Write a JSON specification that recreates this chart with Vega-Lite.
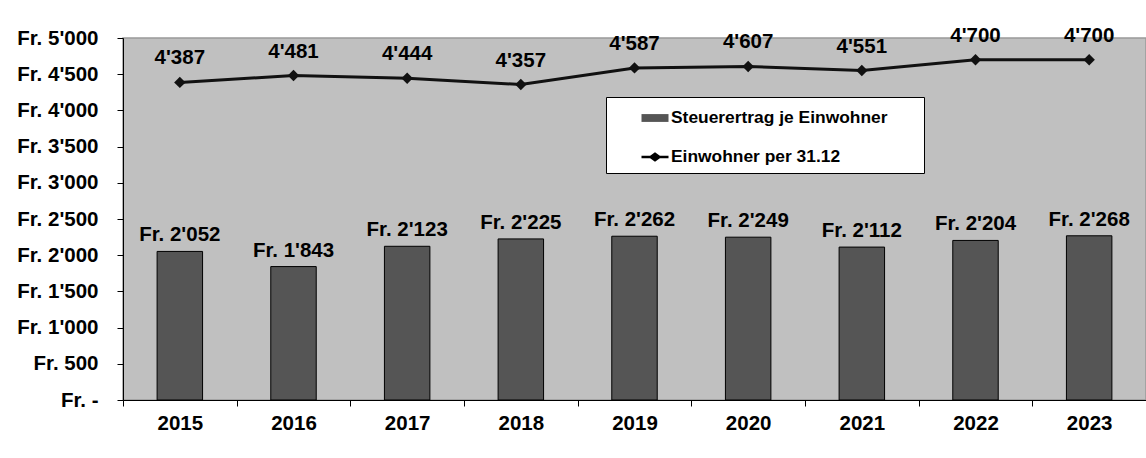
{
  "$schema": "https://vega.github.io/schema/vega-lite/v6.json",
  "width": 1023,
  "height": 362,
  "autosize": {"type": "none"},
  "padding": {"left": 123, "top": 38, "right": 0, "bottom": 58},
  "background": "white",
  "config": {
    "locale": {"number": {"decimal": ".", "thousands": "'", "grouping": [3], "currency": ["Fr. ", ""]}},
    "font": "Liberation Sans",
    "view": {"fill": "#C0C0C0", "stroke": "#999999", "strokeWidth": 1.5},
    "axis": {"labelFont": "Liberation Sans", "labelFontWeight": "bold", "labelColor": "black", "domainColor": "black", "tickColor": "black", "grid": false, "title": null, "domainWidth": 1, "tickWidth": 1}
  },
  "data": {
    "values": [
      {"year": "2015", "series": "Steuerertrag je Einwohner", "value": 2052},
      {"year": "2016", "series": "Steuerertrag je Einwohner", "value": 1843},
      {"year": "2017", "series": "Steuerertrag je Einwohner", "value": 2123},
      {"year": "2018", "series": "Steuerertrag je Einwohner", "value": 2225},
      {"year": "2019", "series": "Steuerertrag je Einwohner", "value": 2262},
      {"year": "2020", "series": "Steuerertrag je Einwohner", "value": 2249},
      {"year": "2021", "series": "Steuerertrag je Einwohner", "value": 2112},
      {"year": "2022", "series": "Steuerertrag je Einwohner", "value": 2204},
      {"year": "2023", "series": "Steuerertrag je Einwohner", "value": 2268},
      {"year": "2015", "series": "Einwohner per 31.12", "value": 4387},
      {"year": "2016", "series": "Einwohner per 31.12", "value": 4481},
      {"year": "2017", "series": "Einwohner per 31.12", "value": 4444},
      {"year": "2018", "series": "Einwohner per 31.12", "value": 4357},
      {"year": "2019", "series": "Einwohner per 31.12", "value": 4587},
      {"year": "2020", "series": "Einwohner per 31.12", "value": 4607},
      {"year": "2021", "series": "Einwohner per 31.12", "value": 4551},
      {"year": "2022", "series": "Einwohner per 31.12", "value": 4700},
      {"year": "2023", "series": "Einwohner per 31.12", "value": 4700}
    ]
  },
  "encoding": {
    "x": {
      "field": "year", "type": "ordinal",
      "scale": {"paddingInner": 0, "paddingOuter": 0},
      "axis": {"labelAngle": 0, "tickBand": "extent", "tickSize": 6, "labelPadding": 7, "labelFontSize": 20.5}
    },
    "y": {
      "field": "value", "type": "quantitative",
      "scale": {"domain": [0, 5000], "nice": false},
      "axis": {"values": [0, 500, 1000, 1500, 2000, 2500, 3000, 3500, 4000, 4500, 5000], "format": "$,.0f", "labelExpr": "datum.value === 0 ? 'Fr. -' : datum.label", "tickSize": 6, "labelPadding": 19, "labelFontSize": 20.5}
    }
  },
  "layer": [
    {
      "transform": [{"filter": "datum.series === 'Steuerertrag je Einwohner'"}],
      "mark": {"type": "bar", "width": {"band": 0.4}, "fill": "#555555", "stroke": "black", "strokeWidth": 1}
    },
    {
      "transform": [{"filter": "datum.series === 'Steuerertrag je Einwohner'"}],
      "mark": {"type": "text", "baseline": "alphabetic", "dy": -10, "font": "Liberation Sans", "fontWeight": "bold", "fontSize": 20.5, "color": "black"},
      "encoding": {"text": {"field": "value", "type": "quantitative", "format": "$,.0f"}}
    },
    {
      "transform": [{"filter": "datum.series === 'Einwohner per 31.12'"}],
      "mark": {"type": "line", "color": "#111111", "strokeWidth": 3}
    },
    {
      "transform": [{"filter": "datum.series === 'Einwohner per 31.12'"}],
      "mark": {"type": "point", "shape": "diamond", "filled": true, "size": 130, "color": "#111111", "opacity": 1}
    },
    {
      "transform": [{"filter": "datum.series === 'Einwohner per 31.12'"}],
      "mark": {"type": "text", "baseline": "alphabetic", "dy": -18, "font": "Liberation Sans", "fontWeight": "bold", "fontSize": 20.5, "color": "black"},
      "encoding": {"text": {"field": "value", "type": "quantitative", "format": ",.0f"}}
    },
    {
      "mark": {"type": "point", "filled": true, "opacity": 0},
      "encoding": {
        "color": {
          "field": "series", "type": "nominal",
          "scale": {"domain": ["Steuerertrag je Einwohner", "Einwohner per 31.12"], "range": ["#555555", "#000000"]},
          "legend": {"orient": "none", "legendX": 483, "legendY": 59, "title": "\u00a0", "titleOrient": "right", "titlePadding": 30, "titleFontSize": 6, "fillColor": "white", "strokeColor": "black", "padding": 7, "rowPadding": 16, "symbolSize": 729, "symbolOffset": 28, "labelOffset": 2, "labelFont": "Liberation Sans", "labelFontSize": 17.4, "labelFontWeight": "bold", "labelColor": "black", "labelLimit": 400, "symbolStrokeColor": "black", "symbolStrokeWidth": 1, "symbolOpacity": 1}
        },
        "shape": {
          "field": "series", "type": "nominal",
          "scale": {"domain": ["Steuerertrag je Einwohner", "Einwohner per 31.12"], "range": ["M-1,-0.29H1V0.29H-1Z", "M-1,-0.09H-0.36L0,-0.36L0.36,-0.09H1V0.09H0.36L0,0.36L-0.36,0.09H-1Z"]},
          "legend": {"orient": "none", "legendX": 483, "legendY": 59, "title": "\u00a0", "titleOrient": "right", "titlePadding": 30, "titleFontSize": 6, "fillColor": "white", "strokeColor": "black", "padding": 7, "rowPadding": 16, "symbolSize": 729, "symbolOffset": 28, "labelOffset": 2, "labelFont": "Liberation Sans", "labelFontSize": 17.4, "labelFontWeight": "bold", "labelColor": "black", "labelLimit": 400, "symbolStrokeColor": "black", "symbolStrokeWidth": 1, "symbolOpacity": 1}
        }
      }
    }
  ]
}
